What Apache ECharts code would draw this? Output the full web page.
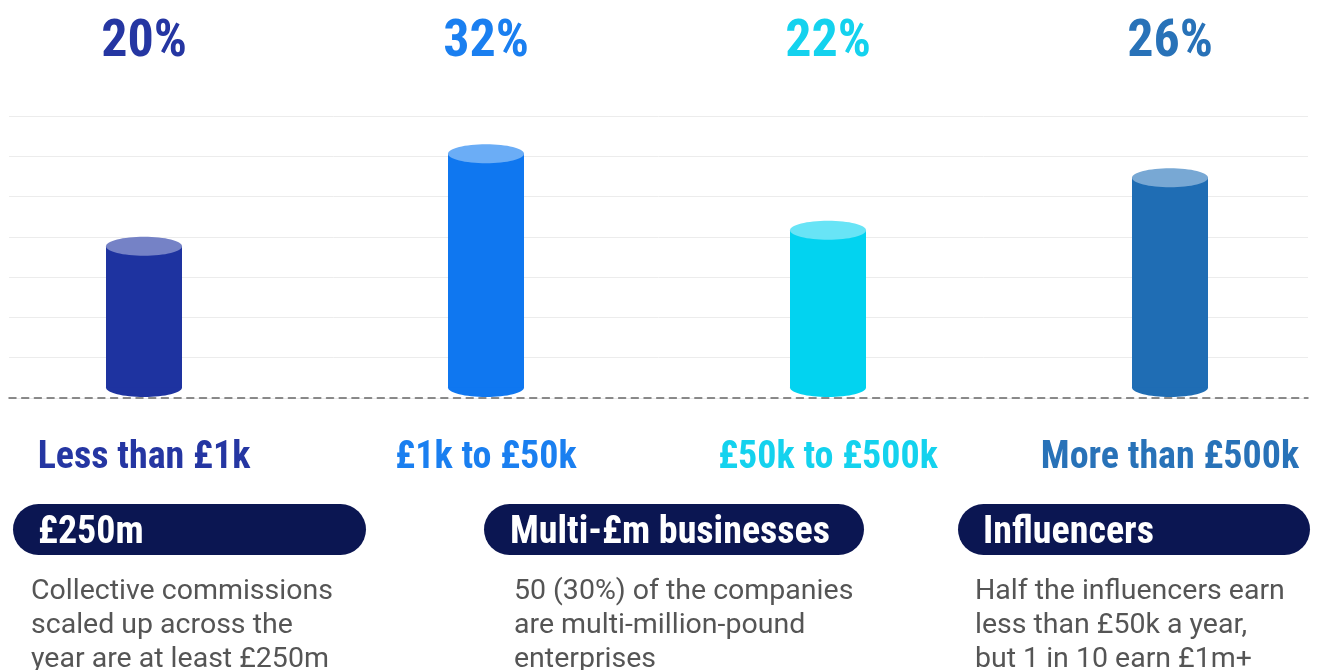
<!DOCTYPE html>
<html>
<head>
<meta charset="utf-8">
<script src="https://cdn.jsdelivr.net/npm/echarts@6/dist/echarts.min.js"></script>
<style>
  html, body { margin: 0; padding: 0; background: #fff; }
  #chart { width: 1324px; height: 670px; }
</style>
</head>
<body>
<div id="chart"></div>
<script>
// earnings bands and share of respondents
const categories = ['Less than £1k', '£1k to £50k', '£50k to £500k', 'More than £500k']
const shareLabels = ['20%', '32%', '22%', '26%']
// bar heights as drawn in the picture (the last one is taller than its label says)
const barValues = [20, 31.5, 22, 28.5]

const pillTitles = ['£250m', 'Multi-£m businesses', 'Influencers']
const pillNotes = [
  ['Collective commissions', 'scaled up across the', 'year are at least £250m'],
  ['50 (30%) of the companies', 'are multi-million-pound', 'enterprises'],
  ['Half the influencers earn', 'less than £50k a year,', 'but 1 in 10 earn £1m+']
]

const labelColors = ['#2536a2', '#1a7ff0', '#14d2ee', '#2872b8']
const bodyColors = ['#1e33a0', '#0f77f0', '#02d3f0', '#1f6db4']
const topColors = ['#7582c6', '#6badf6', '#68e4f6', '#78a8d4']

const CONDENSED = '"Roboto Condensed", Roboto, sans-serif'
const NAVY = '#0b1652'

const pillBoxes = [
  { x: 13, w: 353, tx: 38, nx: 31 },
  { x: 484, w: 380, tx: 510, nx: 514 },
  { x: 958, w: 352, tx: 983, nx: 975 }
]

const graphics = []
pillBoxes.forEach((b, i) => {
  graphics.push({
    type: 'rect',
    shape: { x: b.x, y: 504, width: b.w, height: 51, r: 25.5 },
    style: { fill: NAVY }
  })
  graphics.push({
    type: 'text',
    x: b.tx,
    y: 533,
    style: {
      text: pillTitles[i],
      fill: '#fff',
      font: 'bold 38px ' + CONDENSED,
      verticalAlign: 'middle'
    }
  })
  graphics.push({
    type: 'text',
    x: b.nx,
    y: 575,
    style: {
      text: pillNotes[i].join('\n'),
      fill: '#555',
      font: '28.5px Roboto, sans-serif',
      lineHeight: 34,
      verticalAlign: 'top'
    }
  })
})

const cylinder = (params, api) => {
  const i = params.dataIndex
  const top = api.coord([api.value(0), api.value(1)])
  const base = api.coord([api.value(0), 0])
  const w = 76
  const rx = w / 2
  const ry = 9.5
  const cx = top[0]
  const topY = top[1] + ry
  const botY = base[1] - ry - 1
  return {
    type: 'group',
    children: [
      { type: 'ellipse', shape: { cx: cx, cy: botY, rx: rx, ry: ry }, style: { fill: bodyColors[i] } },
      { type: 'rect', shape: { x: cx - rx, y: topY, width: w, height: botY - topY }, style: { fill: bodyColors[i] } },
      { type: 'ellipse', shape: { cx: cx, cy: topY, rx: rx, ry: ry }, style: { fill: topColors[i] } }
    ]
  }
}

const chart = echarts.init(document.getElementById('chart'))
chart.setOption({
  backgroundColor: '#fff',
  animation: false,
  grid: [
    // background lines
    { left: 9, right: 16, top: 116, height: 282, outerBoundsMode: 'none', containLabel: false },
    // bars, band centres at 145 / 487 / 828 / 1170
    { left: -27, right: -17, top: 116, height: 282, outerBoundsMode: 'none', containLabel: false }
  ],
  xAxis: [{
    gridIndex: 0,
    type: 'value',
    min: 0,
    max: 1,
    axisLine: { show: true, lineStyle: { color: '#666', width: 1.5, type: [7, 5.7] } },
    axisTick: { show: false },
    axisLabel: { show: false },
    splitLine: { show: false }
  }, {
    gridIndex: 1,
    type: 'category',
    data: categories,
    axisLine: { show: false },
    axisTick: { show: false },
    axisLabel: {
      interval: 0,
      hideOverlap: false,
      margin: 41,
      fontFamily: CONDENSED,
      fontWeight: 'bold',
      fontSize: 38,
      color: (v, idx) => labelColors[idx]
    }
  }, {
    gridIndex: 1,
    type: 'category',
    position: 'top',
    data: shareLabels,
    axisLine: { show: false },
    axisTick: { show: false },
    axisLabel: {
      interval: 0,
      margin: 47,
      fontFamily: CONDENSED,
      fontWeight: 'bold',
      fontSize: 52,
      color: (v, idx) => labelColors[idx]
    }
  }],
  yAxis: [{
    gridIndex: 0,
    type: 'value',
    min: 0,
    max: 35,
    interval: 5,
    axisLine: { show: false },
    axisTick: { show: false },
    axisLabel: { show: false },
    splitLine: { lineStyle: { color: '#ececec', width: 1 } }
  }, {
    gridIndex: 1,
    type: 'value',
    min: 0,
    max: 35,
    show: false
  }],
  series: [{
    type: 'custom',
    xAxisIndex: 1,
    yAxisIndex: 1,
    renderItem: cylinder,
    encode: { x: 0, y: 1 },
    data: barValues.map((v, i) => [i, v])
  }],
  graphic: graphics
})
</script>
</body>
</html>
